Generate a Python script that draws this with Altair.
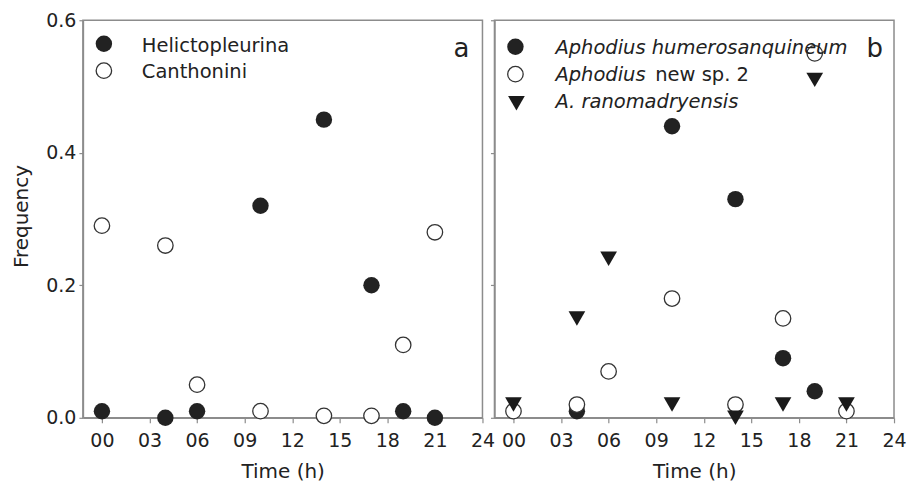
import altair as alt
import pandas as pd

# ---- data ----
hours = [0, 4, 6, 10, 14, 17, 19, 21]
helictopleurina = [0.01, 0.0, 0.01, 0.32, 0.45, 0.20, 0.01, 0.0]
canthonini = [0.29, 0.26, 0.05, 0.01, 0.003, 0.003, 0.11, 0.28]

hours_humero = [4, 10, 14, 17, 19]
humerosanquineum = [0.01, 0.44, 0.33, 0.09, 0.04]
new_sp2 = [0.01, 0.02, 0.07, 0.18, 0.02, 0.15, 0.55, 0.01]
ranomadryensis = [0.02, 0.15, 0.24, 0.02, 0.0, 0.02, 0.51, 0.02]

x_tick_values = [0, 3, 6, 9, 12, 15, 18, 21, 24]
y_tick_values = [0.0, 0.2, 0.4, 0.6]

legend_a = ["Helictopleurina", "Canthonini"]
legend_b_italic = ["Aphodius humerosanquineum", "Aphodius", "A. ranomadryensis"]
legend_b_plain = ["new sp. 2"]
panel_labels = ["a", "b"]

INK = "#222222"
FRAME = "#8c8c8c"
FONT = "DejaVu Sans"
W, H = 400, 398

x_scale = alt.Scale(domain=[-1.2, 24], nice=False)
y_scale = alt.Scale(domain=[0, 0.6], nice=False)

x_axis = alt.Axis(
    values=x_tick_values,
    labelExpr="datum.value < 10 ? '0' + datum.value : '' + datum.value",
    title="Time (h)", grid=False, tickSize=5, labelPadding=9,
    labelFontSize=19, titleFontSize=20, labelFlush=False, labelOverlap=False,
    domainColor=FRAME, tickColor=FRAME, domainWidth=1.5, tickWidth=1.2,
    labelColor=INK, titleColor=INK, titleFontWeight="normal",
    labelFont=FONT, titleFont=FONT, titlePadding=11,
)
y_axis_left = alt.Axis(
    values=y_tick_values, format=".1f", title="Frequency", grid=False,
    tickSize=4, labelPadding=3, labelFontSize=19, titleFontSize=20,
    labelFlush=False, labelOverlap=False,
    domainColor=FRAME, tickColor=FRAME, domainWidth=1.5, tickWidth=1.2,
    labelColor=INK, titleColor=INK, titleFontWeight="normal",
    labelFont=FONT, titleFont=FONT, titleAngle=270, titleBaseline="alphabetic",
    titleX=-55, titleY=196, titleAlign="center",
)
y_axis_right = alt.Axis(
    values=y_tick_values, labels=False, title=None, grid=False, tickSize=4,
    domainColor=FRAME, tickColor=FRAME, domainWidth=1.5, tickWidth=1.2,
)


def pts(df, yaxis, **mark):
    return alt.Chart(df).mark_point(**mark).encode(
        x=alt.X("hour:Q", scale=x_scale, axis=x_axis),
        y=alt.Y("freq:Q", scale=y_scale, axis=yaxis),
    )


filled = dict(shape="circle", filled=True, color=INK, size=270, opacity=1)
hollow = dict(shape="circle", filled=True, fill="white", stroke="#333333",
              strokeWidth=1.3, size=240, opacity=1)
tri = dict(shape="triangle-down", filled=True, color="#1a1a1a", size=280, opacity=1)


def leg_symbol(xp, yp, **mark):
    return alt.Chart(pd.DataFrame({"k": [0]})).mark_point(**mark).encode(
        x=alt.value(xp), y=alt.value(yp))


def leg_text(label, xp, yp, size=19.5, style="normal", align="left"):
    return alt.Chart(pd.DataFrame({"label": [label]})).mark_text(
        align=align, baseline="alphabetic", fontSize=size, font=FONT,
        color=INK, fontStyle=style,
    ).encode(x=alt.value(xp), y=alt.value(yp), text="label:N")


df_h = pd.DataFrame({"hour": hours, "freq": helictopleurina})
df_c = pd.DataFrame({"hour": hours, "freq": canthonini})
df_hu = pd.DataFrame({"hour": hours_humero, "freq": humerosanquineum})
df_n = pd.DataFrame({"hour": hours, "freq": new_sp2})
df_r = pd.DataFrame({"hour": hours, "freq": ranomadryensis})

panel_a = alt.layer(
    pts(df_c, y_axis_left, **hollow),
    pts(df_h, y_axis_left, **filled),
    leg_symbol(21, 23.5, **filled),
    leg_symbol(21, 50.5, **hollow),
    leg_text(legend_a[0], 59, 31.7),
    leg_text(legend_a[1], 59, 58.3),
    leg_text(panel_labels[0], 387, 36.7, size=26, align="right"),
).properties(width=W, height=H)

panel_b = alt.layer(
    pts(df_hu, y_axis_right, **filled),
    pts(df_n, y_axis_right, **hollow),
    pts(df_r, y_axis_right, **tri),
    leg_symbol(21, 26.5, **filled),
    leg_symbol(21, 54, **hollow),
    leg_symbol(22, 83, **tri),
    leg_text(legend_b_italic[0], 61, 34, style="italic"),
    leg_text(legend_b_italic[1], 61, 61, style="italic"),
    leg_text(legend_b_plain[0], 161, 61),
    leg_text(legend_b_italic[2], 61, 88.3, style="italic"),
    leg_text(panel_labels[1], 389, 36.7, size=26, align="right"),
).properties(width=W, height=H)

chart = alt.hconcat(panel_a, panel_b, spacing=12, bounds="flush").properties(
    padding={"left": 11, "top": 10, "right": 0, "bottom": 0},
    background="white",
).configure_view(stroke=FRAME, strokeWidth=1.5)

chart.save("out.html", embed_options={"renderer": "svg", "actions": False})
